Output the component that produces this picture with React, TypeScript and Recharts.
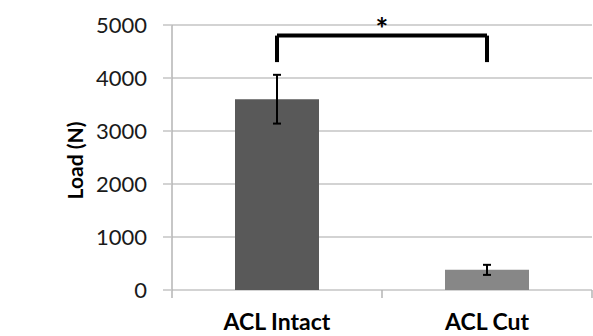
import {
  BarChart,
  Bar,
  XAxis,
  YAxis,
  CartesianGrid,
  ErrorBar,
  Cell,
  ReferenceLine,
  Label,
} from 'recharts'

// Values
const groups = ['ACL Intact', 'ACL Cut']
const loads = [3600, 380]
const loadErrors = [460, 95]
const barColors = ['#595959', '#878787']
const yTicks = [0, 1000, 2000, 3000, 4000, 5000]

// significance bracket between the two groups
const bracketTop = 4800
const bracketBottom = 4300

const chartData = groups.map((group, i) => ({
  group,
  load: loads[i],
  err: loadErrors[i],
  slot: i + 0.5,
}))

const font = 'Lato, "Open Sans", sans-serif'
const CAT = 'b-cat'
const EDGES = 'a-edges'

export default function App() {
  return (
    <div style={{ position: 'absolute', left: 0, top: 0 }}>
      <style>{'body{margin:0}'}</style>
      <BarChart
        width={593}
        height={336}
        data={chartData}
        margin={{ top: 25, right: 1, bottom: 0, left: 0 }}
        barCategoryGap="30%"
      >
        <CartesianGrid vertical={false} stroke="#c4c4c4" strokeWidth={1.5} />
        {/* tick marks sit on the category boundaries */}
        <XAxis
          xAxisId={EDGES}
          dataKey="slot"
          type="number"
          domain={[0, 2]}
          allowDataOverflow
          ticks={[0, 1, 2]}
          height={1}
          tick={() => <g />}
          tickSize={8}
          axisLine={false}
          tickLine={{ stroke: '#b4b4b4', strokeWidth: 1.5 }}
        />
        <XAxis
          dataKey="group"
          xAxisId={CAT}
          height={45}
          axisLine={false}
          tickLine={false}
          tickMargin={17}
          tick={{ fill: '#000', fontSize: 23, fontWeight: 700, fontFamily: font }}
        />
        <YAxis
          width={172}
          domain={[0, 5000]}
          ticks={yTicks}
          tickSize={9}
          tickMargin={16}
          axisLine={{ stroke: '#b4b4b4', strokeWidth: 1.5 }}
          tickLine={{ stroke: '#c4c4c4', strokeWidth: 1.5 }}
          tick={{ fill: '#1a1a1a', fontSize: 22, fontFamily: font }}
        >
          <Label
            content={({ viewBox }: any) => {
              const cx = viewBox.x + 74
              const cy = viewBox.y + viewBox.height / 2 + 3
              return (
                <text
                  x={cx}
                  y={cy}
                  transform={`rotate(-90, ${cx}, ${cy})`}
                  textAnchor="middle"
                  dominantBaseline="central"
                  fontSize={21}
                  fontWeight={700}
                  fontFamily={font}
                  fill="#000"
                >
                  Load (N)
                </text>
              )
            }}
          />
        </YAxis>
        <Bar dataKey="load" xAxisId={CAT} isAnimationActive={false}>
          {chartData.map((d, i) => (
            <Cell key={d.group} fill={barColors[i]} />
          ))}
          <ErrorBar dataKey="err" width={4} stroke="#000" strokeWidth={2} />
        </Bar>
        <ReferenceLine
          xAxisId={CAT}
          segment={[
            { x: groups[0], y: bracketBottom },
            { x: groups[0], y: bracketTop },
          ]}
          stroke="#000"
          strokeWidth={4}
          ifOverflow="visible"
        />
        <ReferenceLine
          xAxisId={CAT}
          segment={[
            { x: groups[0], y: bracketTop },
            { x: groups[1], y: bracketTop },
          ]}
          stroke="#000"
          strokeWidth={4}
          ifOverflow="visible"
        >
          <Label
            content={({ viewBox }: any) => (
              <text
                x={viewBox.x + viewBox.width / 2}
                y={viewBox.y + 4}
                textAnchor="middle"
                fontSize={30}
                fontWeight={700}
                fontFamily={font}
                fill="#000"
              >
                *
              </text>
            )}
          />
        </ReferenceLine>
        <ReferenceLine
          xAxisId={CAT}
          segment={[
            { x: groups[1], y: bracketTop },
            { x: groups[1], y: bracketBottom },
          ]}
          stroke="#000"
          strokeWidth={4}
          ifOverflow="visible"
        />
      </BarChart>
    </div>
  )
}
